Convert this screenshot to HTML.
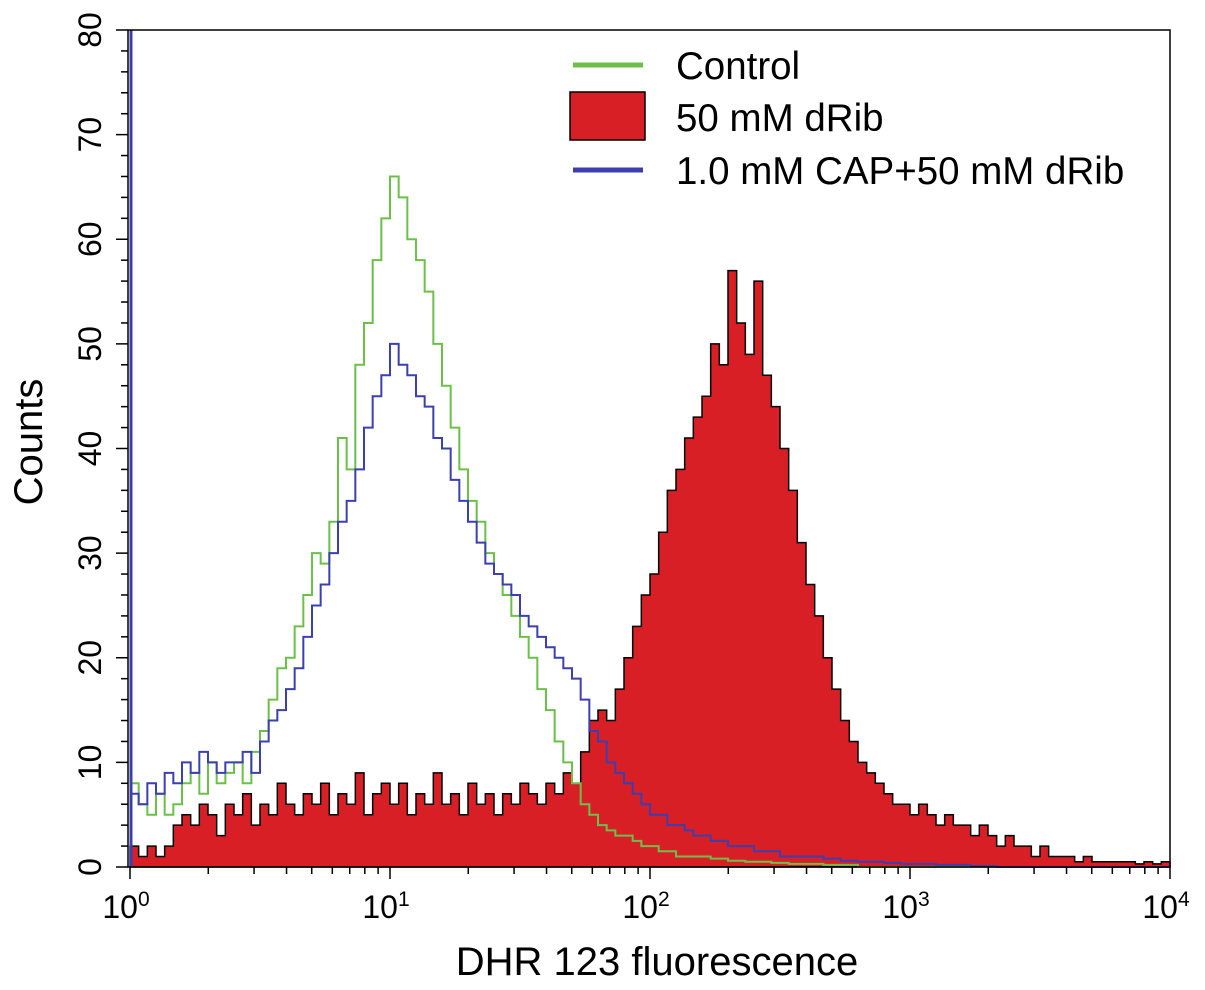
<!DOCTYPE html>
<html><head><meta charset="utf-8"><style>
html,body{margin:0;padding:0;background:#fff;}
svg{display:block;font-family:"Liberation Sans",Arial,sans-serif;}
</style></head><body>
<svg id="chart" width="1205" height="990" viewBox="0 0 1205 990" xmlns="http://www.w3.org/2000/svg">
<g id="marks"></g>
<g id="axes"></g>
<g id="legend">
 <line x1="573" y1="65" x2="643" y2="65" stroke="#6cc04a" stroke-width="5"/>
 <text x="676" y="79" font-size="38.5">Control</text>
 <rect x="570" y="92" width="75" height="48" fill="#d91f26" stroke="#000" stroke-width="1.5"/>
 <text x="676" y="131" font-size="38.5">50 mM dRib</text>
 <line x1="573" y1="170" x2="643" y2="170" stroke="#3b3fb0" stroke-width="5"/>
 <text x="676" y="184" font-size="38.5">1.0 mM CAP+50 mM dRib</text>
</g>
<text transform="translate(42,442) rotate(-90)" text-anchor="middle" font-size="40">Counts</text>
<text x="657" y="975" text-anchor="middle" font-size="40">DHR 123 fluorescence</text>
</svg>
<script>
// bins: 30 per decade, log10 position = i/30
const binsPerDecade = 30;
const redCounts = [2,1,2,1,2,4, 5,4,6,5,3,6, 5,7,4,6,5,8, 6,5,7,6,8,5, 7,6,9,5,7,8, 6,8,5,7,6,9, 6,7,5,8,6,7, 5,7,6,8,7,6, 8,7,9,8,11,14, 15,14,17,20,23,26, 28,32,36,38,41,43, 45,50,48,57,52,49, 56,47,44,40,36,31, 27,24,20,17,14,12, 10,9,8,7,6,6, 5,6,5,4,5,4, 4,3,4,3,2,3, 2,2,1,2,1,1, 1,0.5,1,0.5,0.5,0.5, 0.5,0.5,0.3,0.5,0.3,0.5];
const controlCounts = [8,6,5,7,5,6, 8,9,7,10,8,9, 10,8,11,13,16,19, 20,23,26,30,29,33, 41,38,48,52,58,62, 66,64,60,58,55,50, 46,42,38,35,33,30, 28,26,24,22,20,17, 15,12,10,8,6,5, 4,3.5,3,3,2.5,2, 2,1.5,1.5,1,1,1, 1,0.8,0.8,0.6,0.6,0.5, 0.5,0.5,0.4,0.4,0.3,0.3, 0.3,0.3,0.2,0.2,0.2,0.2, 0,0,0,0,0,0, 0,0,0,0,0,0, 0,0,0,0,0,0, 0,0,0,0,0,0, 0,0,0,0,0,0, 0,0,0,0,0,0];
const capCounts = [7,6,8,7,9,8, 10,9,11,10,9,10, 10,11,9,12,14,15, 17,19,22,25,27,30, 33,35,38,42,45,47, 50,48,47,45,44,41, 40,37,35,33,31,29, 28,27,26,24,23,22, 21,20,19,18,16,13, 12,10,9,8,7,6, 5,5,4,4,3.5,3, 3,2.5,2.5,2,2,2, 1.5,1.5,1.5,1,1,1, 1,1,0.8,0.8,0.6,0.6, 0.5,0.5,0.5,0.4,0.4,0.3, 0.3,0.3,0.3,0.2,0.2,0.2, 0.2,0.1,0.1,0.1,0,0, 0,0,0,0,0,0, 0,0,0,0,0,0, 0,0,0,0,0,0];
const yTicks = [0,10,20,30,40,50,60,70,80];
const xDecades = [0,1,2,3,4];

const X0=130, X1=1170, Y0=867, Y1=30;
const xScale = lg => X0 + (X1-X0)*lg/4;
const yScale = v => Y0 - (Y0-Y1)*v/80;
const NS="http://www.w3.org/2000/svg";
const marks=document.getElementById('marks'), axes=document.getElementById('axes');
function mk(tag,attrs,parent){const e=document.createElementNS(NS,tag);for(const k in attrs)e.setAttribute(k,attrs[k]);parent.appendChild(e);return e;}
function stepPath(arr,closed){
  let d='';
  arr.forEach((v,i)=>{const xa=xScale(i/binsPerDecade), xb=xScale((i+1)/binsPerDecade), y=yScale(v);
    d+=(i===0?(closed?`M${xa},${Y0} L${xa},${y}`:`M${xa},${y}`):` L${xa},${y}`)+` L${xb},${y}`;});
  if(closed)d+=` L${xScale(arr.length/binsPerDecade)},${Y0} Z`;
  return d;
}
const red=mk('path',{d:stepPath(redCounts,true),fill:'#d91f26',stroke:'#000','stroke-width':1.5},marks);


const green=mk('path',{d:stepPath(controlCounts,false),fill:'none',stroke:'#6cc04a','stroke-width':2},marks);


const blue=mk('path',{d:stepPath(capCounts,false),fill:'none',stroke:'#3b3fb0','stroke-width':2},marks);


const spike=mk('line',{x1:X0+1,y1:Y0,x2:X0+1,y2:Y1,stroke:'#3b3fb0','stroke-width':3},marks);



const frame=mk('rect',{x:X0-2,y:Y1,width:X1-X0+2,height:Y0-Y1,fill:'none',stroke:'#000','stroke-width':1.5},axes);


for(let v=0;v<=80;v+=2){
  const major=v%10===0;
  const t=mk('line',{x1:X0-2-(major?12:7),x2:X0-2,y1:yScale(v),y2:yScale(v),stroke:'#000','stroke-width':1.5},axes);
  
  
}
yTicks.forEach(v=>{
  const t=mk('text',{transform:`translate(101,${yScale(v)}) rotate(-90)`,'text-anchor':'middle','font-size':32},axes);
  t.textContent=v;
  
  
});
xDecades.forEach((d,idx)=>{
  const tk=mk('line',{x1:xScale(d),x2:xScale(d),y1:Y0,y2:Y0+12,stroke:'#000','stroke-width':1.5},axes);
  
  
  if(idx<xDecades.length-1){for(let m=2;m<=9;m++){const x=xScale(d+Math.log10(m));
    const mt=mk('line',{x1:x,x2:x,y1:Y0,y2:Y0+7,stroke:'#000','stroke-width':1.5},axes);
    
    }}
  const t=mk('text',{x:xScale(d)-4,y:918,'text-anchor':'middle','font-size':32},axes);
  
  
  t.textContent='10';
  const s=mk('tspan',{dy:-12,'font-size':21},t);s.textContent=d;
});
</script>
</body></html>
